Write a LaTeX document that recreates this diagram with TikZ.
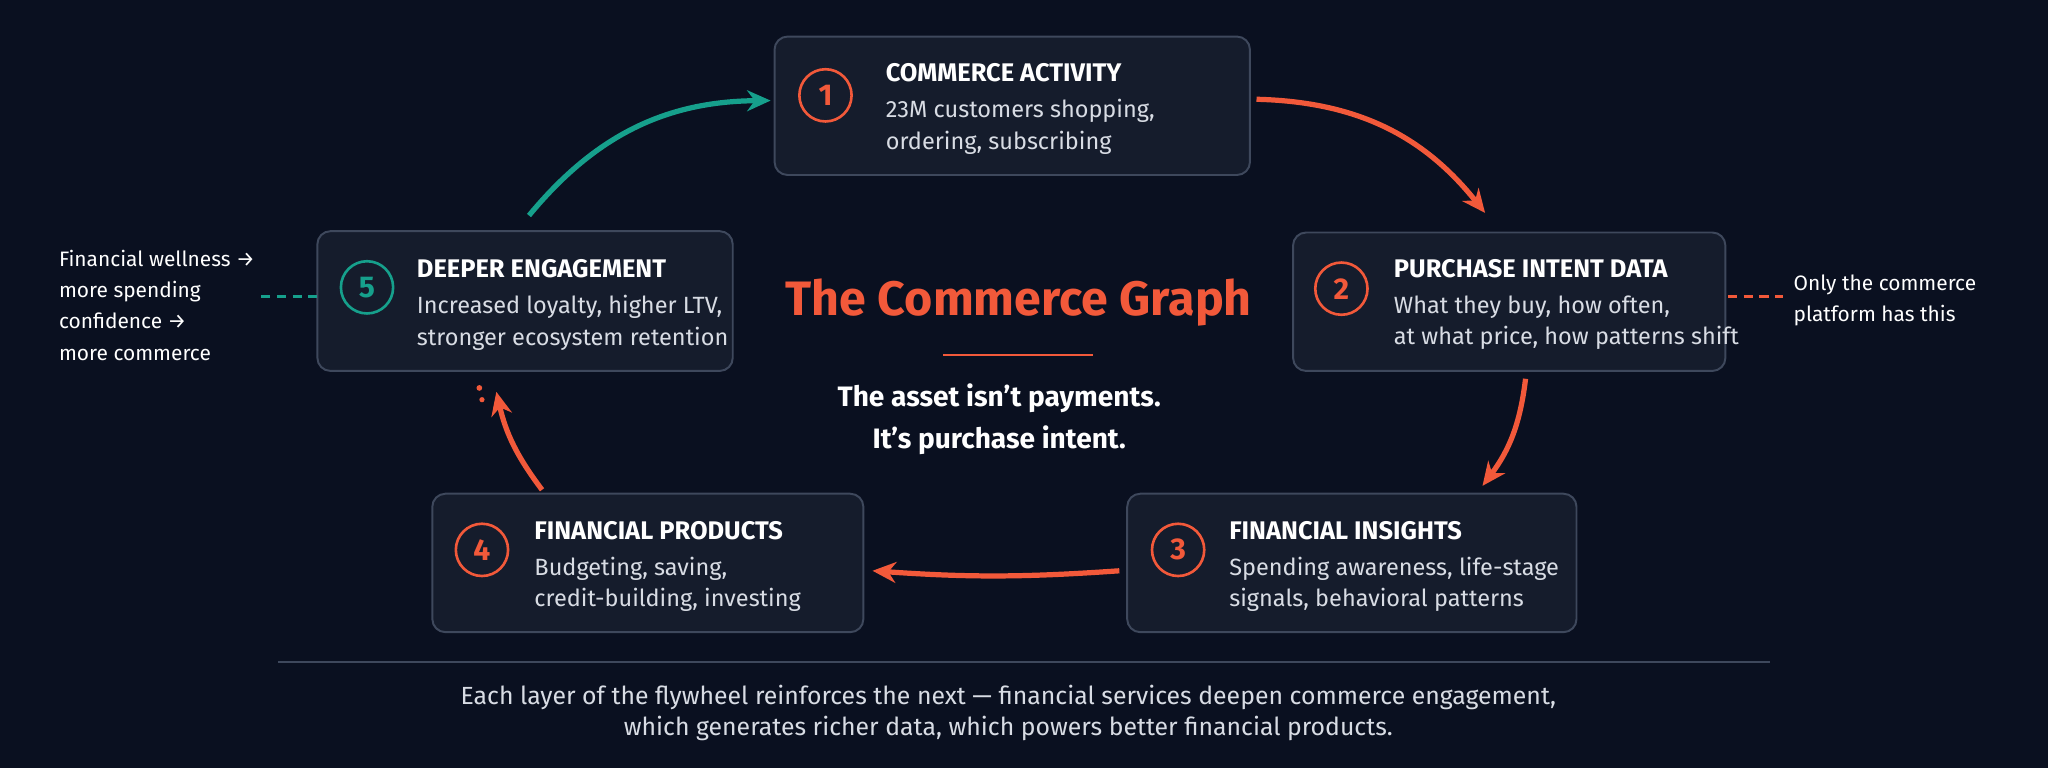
\documentclass[tikz,border=0pt]{standalone}
\usepackage{fontspec}
\setmainfont{Fira Sans}
\usetikzlibrary{arrows.meta,positioning}
\definecolor{bg}{HTML}{0A1020}
\definecolor{boxfill}{HTML}{151C2C}
\definecolor{boxline}{HTML}{3E485C}
\definecolor{hot}{HTML}{F2593A}
\definecolor{teal}{HTML}{16A08C}
\definecolor{soft}{HTML}{D8DCE4}

\begin{document}
\begin{tikzpicture}[x=1pt,y=-1pt,>={Stealth[length=18pt,width=16pt]},
    stage/.style={draw=boxline,fill=boxfill,line width=1.5pt,rounded corners=10pt},
    badge/.style={circle,draw=hot,line width=2pt,minimum size=40pt,inner sep=0pt,
        text=hot,font=\fontsize{23}{24}\selectfont\bfseries},
    head/.style={anchor=west,inner sep=0pt,text=white,font=\fontsize{19.5}{20}\selectfont\bfseries},
    body/.style={anchor=north west,text=soft,align=left,inner sep=0pt,
        font=\fontsize{18}{24}\selectfont},
    flow/.style={->,hot,line width=4pt},
    side/.style={anchor=north west,text=white,align=left,inner sep=0pt,
        font=\fontsize{16}{24}\selectfont}]
    \fill[bg] (0,0) rectangle (1568,588);

    % the five stages
    \draw[stage] (593,28) rectangle (957,134);
    \node[badge] (b1) at (632,73) {1};
    \node[head] (h1) at (678,56) {COMMERCE ACTIVITY};
    \node[body] (t1) at (678,76) {23M customers shopping,\\ordering, subscribing};

    \draw[stage] (990,178) rectangle (1321,284);
    \node[badge] (b2) at (1027,221) {2};
    \node[head] (h2) at (1067,206) {PURCHASE INTENT DATA};
    \node[body] (t2) at (1067,226) {What they buy, how often,\\at what price, how patterns shift};

    \draw[stage] (863,378) rectangle (1207,484);
    \node[badge] (b3) at (902,421) {3};
    \node[head] (h3) at (941,406) {FINANCIAL INSIGHTS};
    \node[body] (t3) at (941,426) {Spending awareness, life-stage\\signals, behavioral patterns};

    \draw[stage] (331,378) rectangle (661,484);
    \node[badge] (b4) at (369,421) {4};
    \node[head] (h4) at (409,406) {FINANCIAL PRODUCTS};
    \node[body] (t4) at (409,426) {Budgeting, saving,\\credit-building, investing};

    \draw[stage] (243,177) rectangle (561,284);
    \node[badge,draw=teal,text=teal] (b5) at (281,220) {5};
    \node[head] (h5) at (319,206) {DEEPER ENGAGEMENT};
    \node[body] (t5) at (319,226) {Increased loyalty, higher LTV,\\stronger ecosystem retention};

    % centre
    \node[text=hot,font=\fontsize{37}{40}\selectfont\bfseries] (title) at (780,232) {The Commerce Graph};
    \draw[hot,line width=1.2pt] (722,272) -- (837,272);
    \node[text=white,align=center,font=\fontsize{21.5}{32}\selectfont\bfseries] (claim) at (765,321)
        {The asset isn’t payments.\\It’s purchase intent.};

    % loop
    \coordinate (a5) at (405,165);
    \coordinate (e1) at (590,77);
    \draw[->,teal,line width=4pt] (a5) to[bend left=25] (e1);
    \draw[flow] (962,76) to[bend left=25] (1137,163);
    \draw[flow] (1168,290) to[bend left=15] (1135,372);
    \draw[flow] (857,437) to[bend left=4] (668,437);
    \draw[flow] (415,375) to[bend left=12] (380,300);
    \fill[hot] (367,297) circle (2.2pt) (369,306) circle (2pt);

    % side notes
    \node[side] (left) at (45,191) {Financial wellness →\\more spending\\confidence →\\more commerce};
    \draw[teal,dashed,line width=2pt,dash pattern=on 7pt off 5pt] (200,227) -- (243,227);
    \draw[hot,dashed,line width=2pt,dash pattern=on 7pt off 5pt] (1323,227) -- (1365,227);
    \node[side] (right) at (1373,210) {Only the commerce\\platform has this};

    % footer
    \draw[boxline,line width=1.2pt] (213,507) -- (1355,507);
    \node[text=soft,align=center,font=\fontsize{19}{24}\selectfont] (foot) at (772,546)
        {Each layer of the flywheel reinforces the next — financial services deepen commerce engagement,\\which generates richer data, which powers better financial products.};
\end{tikzpicture}
\end{document}
